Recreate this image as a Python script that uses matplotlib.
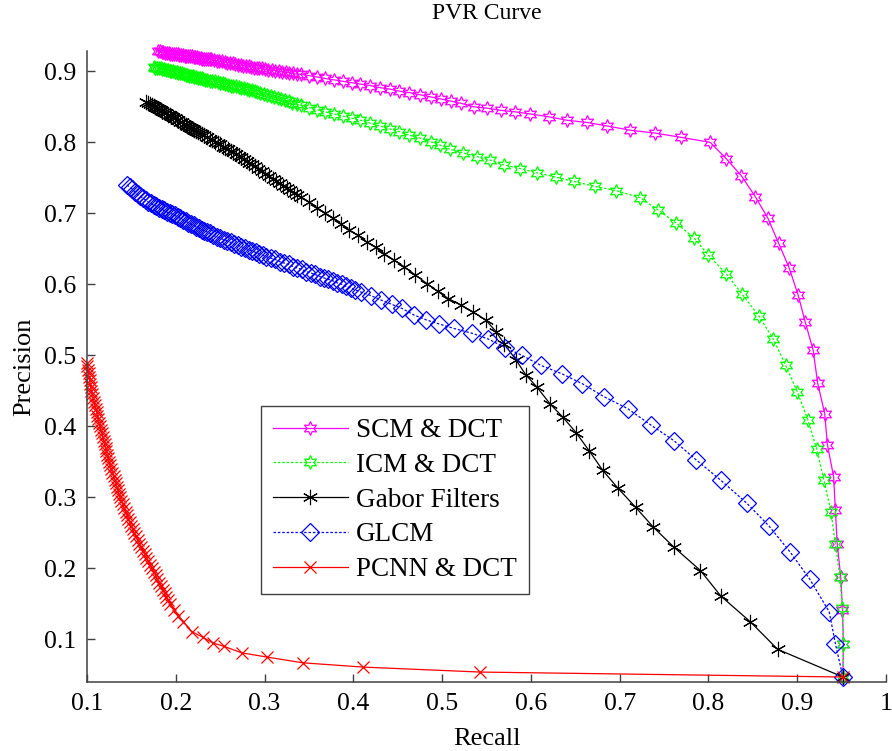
import matplotlib
matplotlib.use("Agg")
import matplotlib.pyplot as plt

plt.rcParams['font.family'] = ['Liberation Serif', 'DejaVu Serif']

title = "PVR Curve"
xlabel = "Recall"
ylabel = "Precision"
xticks = [0.1, 0.2, 0.3, 0.4, 0.5, 0.6, 0.7, 0.8, 0.9, 1.0]
xticklabels = ['0.1', '0.2', '0.3', '0.4', '0.5', '0.6', '0.7', '0.8', '0.9', '1']
yticks = [0.1, 0.2, 0.3, 0.4, 0.5, 0.6, 0.7, 0.8, 0.9]
yticklabels = ['0.1', '0.2', '0.3', '0.4', '0.5', '0.6', '0.7', '0.8', '0.9']

scm_x = [0.180, 0.182, 0.184, 0.186, 0.188, 0.190, 0.192, 0.194, 0.196, 0.198, 0.200, 0.202, 0.204, 0.206,
         0.208, 0.210, 0.212, 0.214, 0.216, 0.218, 0.220, 0.222, 0.224, 0.226, 0.228, 0.230, 0.232, 0.234,
         0.236, 0.238, 0.240, 0.243, 0.246, 0.249, 0.252, 0.255, 0.258, 0.261, 0.264, 0.267, 0.270, 0.273,
         0.276, 0.279, 0.282, 0.285, 0.288, 0.291, 0.294, 0.297, 0.300, 0.304, 0.308, 0.312, 0.316, 0.320,
         0.324, 0.328, 0.332, 0.336,
         0.341, 0.350, 0.359, 0.368, 0.378, 0.388, 0.398, 0.408, 0.419, 0.430, 0.441, 0.452, 0.463, 0.475,
         0.487, 0.499, 0.510, 0.521, 0.536, 0.551, 0.566, 0.582, 0.599, 0.620, 0.641, 0.663, 0.686, 0.712,
         0.740, 0.769, 0.802, 0.820, 0.837, 0.853, 0.867, 0.879, 0.891, 0.901, 0.909, 0.918, 0.923, 0.931,
         0.934, 0.941, 0.943, 0.945, 0.949, 0.951, 0.952, 0.9515]
scm_y = [0.928, 0.928, 0.927, 0.927, 0.926, 0.926, 0.926, 0.925, 0.925, 0.925, 0.924, 0.924, 0.923, 0.923,
         0.923, 0.922, 0.922, 0.922, 0.921, 0.921, 0.920, 0.920, 0.920, 0.919, 0.919, 0.918, 0.918, 0.918,
         0.917, 0.917, 0.917, 0.916, 0.915, 0.914, 0.914, 0.913, 0.912, 0.912, 0.911, 0.910, 0.909, 0.909,
         0.908, 0.907, 0.907, 0.906, 0.905, 0.905, 0.904, 0.904, 0.903, 0.902, 0.902, 0.901, 0.900, 0.899,
         0.899, 0.898, 0.897, 0.896,
         0.896, 0.894, 0.892, 0.890, 0.888, 0.886, 0.884, 0.882, 0.880, 0.877, 0.875, 0.872, 0.870, 0.867,
         0.864, 0.861, 0.858, 0.855, 0.850, 0.848, 0.845, 0.843, 0.840, 0.836, 0.831, 0.828, 0.823, 0.817,
         0.813, 0.807, 0.800, 0.777, 0.753, 0.723, 0.693, 0.658, 0.623, 0.585, 0.547, 0.507, 0.461, 0.418,
         0.374, 0.329, 0.282, 0.235, 0.188, 0.141, 0.094, 0.047]

icm_x = [0.175, 0.177, 0.179, 0.181, 0.183, 0.185, 0.187, 0.189, 0.191, 0.193, 0.195, 0.197, 0.199, 0.201,
         0.203, 0.205, 0.207, 0.209, 0.211, 0.213, 0.215, 0.217, 0.219, 0.221, 0.223, 0.225, 0.227, 0.229,
         0.231, 0.233, 0.235, 0.238, 0.241, 0.244, 0.247, 0.250, 0.253, 0.256, 0.259, 0.262, 0.265, 0.268,
         0.271, 0.274, 0.277, 0.280, 0.283, 0.286, 0.289, 0.292, 0.295, 0.299, 0.303, 0.307, 0.311, 0.315,
         0.319, 0.323, 0.327, 0.331, 0.336,
         0.341, 0.350, 0.359, 0.368, 0.378, 0.388, 0.398, 0.408, 0.419, 0.430, 0.441, 0.452, 0.463, 0.475,
         0.487, 0.498, 0.509, 0.524, 0.539, 0.554, 0.570, 0.588, 0.607, 0.628, 0.648, 0.672, 0.696, 0.723,
         0.743, 0.764, 0.784, 0.800, 0.820, 0.838, 0.857, 0.873, 0.887, 0.900, 0.912, 0.922, 0.930, 0.938,
         0.943, 0.948, 0.951, 0.952, 0.9515]
icm_y = [0.906, 0.905, 0.905, 0.904, 0.904, 0.903, 0.903, 0.902, 0.902, 0.901, 0.900, 0.900, 0.899, 0.899,
         0.898, 0.897, 0.897, 0.896, 0.895, 0.895, 0.894, 0.894, 0.893, 0.892, 0.892, 0.891, 0.890, 0.890,
         0.889, 0.888, 0.888, 0.887, 0.886, 0.886, 0.885, 0.884, 0.883, 0.882, 0.881, 0.880, 0.880, 0.879,
         0.878, 0.877, 0.876, 0.875, 0.874, 0.873, 0.872, 0.871, 0.870, 0.868, 0.867, 0.865, 0.864, 0.862,
         0.861, 0.859, 0.858, 0.856, 0.854,
         0.852, 0.849, 0.846, 0.843, 0.840, 0.837, 0.834, 0.831, 0.827, 0.823, 0.819, 0.815, 0.810, 0.806,
         0.801, 0.796, 0.790, 0.785, 0.780, 0.775, 0.768, 0.763, 0.757, 0.751, 0.745, 0.738, 0.732, 0.722,
         0.705, 0.686, 0.665, 0.641, 0.615, 0.586, 0.555, 0.523, 0.486, 0.449, 0.409, 0.368, 0.324, 0.280,
         0.235, 0.188, 0.144, 0.094, 0.047]

gabor_x = [0.167, 0.169, 0.171, 0.173, 0.175, 0.177, 0.179, 0.181, 0.183, 0.185, 0.187, 0.189, 0.191, 0.193,
           0.195, 0.197, 0.199, 0.201, 0.203, 0.205, 0.207, 0.209, 0.211, 0.213, 0.215, 0.217, 0.219, 0.221,
           0.223, 0.225, 0.227, 0.229, 0.232, 0.235, 0.238, 0.241, 0.244, 0.247, 0.250, 0.253, 0.256, 0.259,
           0.262, 0.265, 0.268, 0.271, 0.274, 0.277, 0.280, 0.283, 0.286, 0.289, 0.293, 0.297, 0.301, 0.305,
           0.309, 0.313, 0.317, 0.321, 0.325, 0.329, 0.333, 0.337,
           0.341, 0.350, 0.359, 0.368, 0.377, 0.386, 0.395, 0.405, 0.415, 0.425, 0.435, 0.446, 0.457, 0.470,
           0.483, 0.495, 0.507, 0.521, 0.535, 0.549, 0.561, 0.570, 0.583, 0.594, 0.607, 0.622, 0.636, 0.651,
           0.666, 0.681, 0.698, 0.718, 0.738, 0.761, 0.791, 0.814, 0.847, 0.878, 0.9515]
gabor_y = [0.857, 0.856, 0.854, 0.853, 0.851, 0.850, 0.848, 0.847, 0.845, 0.844, 0.842, 0.841, 0.839, 0.838,
           0.837, 0.835, 0.834, 0.832, 0.831, 0.829, 0.828, 0.826, 0.825, 0.823, 0.822, 0.820, 0.819, 0.818,
           0.816, 0.815, 0.813, 0.812, 0.810, 0.807, 0.805, 0.803, 0.801, 0.799, 0.797, 0.794, 0.792, 0.790,
           0.788, 0.786, 0.784, 0.781, 0.779, 0.776, 0.774, 0.771, 0.769, 0.766, 0.763, 0.760, 0.756, 0.753,
           0.749, 0.746, 0.743, 0.739, 0.736, 0.733, 0.729, 0.726,
           0.723, 0.716, 0.708, 0.700, 0.693, 0.685, 0.677, 0.669, 0.660, 0.652, 0.643, 0.634, 0.625, 0.613,
           0.601, 0.590, 0.580, 0.571, 0.561, 0.550, 0.533, 0.516, 0.494, 0.473, 0.455, 0.431, 0.413, 0.391,
           0.365, 0.338, 0.313, 0.286, 0.258, 0.230, 0.197, 0.161, 0.125, 0.086, 0.047]

glcm_x = [0.145, 0.148, 0.151, 0.154, 0.157, 0.160, 0.163, 0.166, 0.169, 0.172, 0.175, 0.178, 0.181, 0.184,
          0.187, 0.190, 0.193, 0.196, 0.199, 0.202, 0.205, 0.208, 0.211, 0.214, 0.217, 0.220, 0.223, 0.226,
          0.229, 0.232, 0.235, 0.238, 0.242, 0.246, 0.250, 0.254, 0.258, 0.262, 0.266, 0.270, 0.274, 0.278,
          0.282, 0.286, 0.290, 0.294, 0.298, 0.302, 0.307, 0.312, 0.317, 0.322, 0.327, 0.332, 0.337, 0.342,
          0.347, 0.352, 0.357, 0.362, 0.367, 0.372, 0.377, 0.382, 0.387, 0.392, 0.397, 0.402,
          0.409, 0.420, 0.431, 0.443, 0.455, 0.468, 0.482, 0.497, 0.513, 0.534, 0.552, 0.571, 0.590, 0.611,
          0.635, 0.658, 0.682, 0.709, 0.735, 0.761, 0.786, 0.814, 0.843, 0.868, 0.892, 0.914, 0.936, 0.943,
          0.9515]
glcm_y = [0.740, 0.737, 0.734, 0.730, 0.727, 0.724, 0.721, 0.719, 0.716, 0.714, 0.712, 0.710, 0.708, 0.706,
          0.704, 0.702, 0.700, 0.699, 0.697, 0.695, 0.693, 0.691, 0.689, 0.687, 0.685, 0.683, 0.681, 0.679,
          0.677, 0.675, 0.674, 0.672, 0.669, 0.667, 0.665, 0.663, 0.661, 0.659, 0.657, 0.655, 0.653, 0.651,
          0.649, 0.647, 0.645, 0.643, 0.641, 0.639, 0.637, 0.635, 0.632, 0.630, 0.628, 0.625, 0.623, 0.621,
          0.618, 0.616, 0.614, 0.611, 0.609, 0.607, 0.605, 0.602, 0.600, 0.597, 0.595, 0.592,
          0.589, 0.584, 0.578, 0.572, 0.566, 0.557, 0.550, 0.544, 0.538, 0.531, 0.523, 0.511, 0.500, 0.486,
          0.474, 0.460, 0.442, 0.425, 0.402, 0.380, 0.353, 0.324, 0.292, 0.260, 0.223, 0.185, 0.139, 0.094,
          0.047]

pcnn_x = [0.1000, 0.1005, 0.1012, 0.1018, 0.1024, 0.1031, 0.1037, 0.1044, 0.1050, 0.1060, 0.1070, 0.1079,
          0.1089, 0.1099, 0.1109, 0.1118, 0.1128, 0.1137, 0.1147, 0.1157, 0.1168, 0.1178, 0.1188, 0.1199,
          0.1209, 0.1219, 0.1229, 0.1240, 0.1250, 0.1262, 0.1274, 0.1287, 0.1299, 0.1311, 0.1323, 0.1335,
          0.1348, 0.1360, 0.1372, 0.1388, 0.1404, 0.1419, 0.1435, 0.1451, 0.1467, 0.1483, 0.1498, 0.1514,
          0.1530, 0.1550, 0.1570, 0.1590, 0.1610, 0.1630, 0.1650, 0.1670, 0.1690, 0.1710, 0.1730, 0.1751,
          0.1772, 0.1792, 0.1813, 0.1833, 0.1854, 0.1874, 0.1895, 0.1915, 0.1936, 0.1980, 0.2030, 0.2086,
          0.2180, 0.2304, 0.2417, 0.2548, 0.2744, 0.3033, 0.3432, 0.4110, 0.5430, 0.9515]
pcnn_y = [0.489, 0.485, 0.480, 0.475, 0.470, 0.465, 0.460, 0.455, 0.450, 0.445, 0.440, 0.435,
          0.430, 0.425, 0.420, 0.415, 0.410, 0.405, 0.400, 0.395, 0.390, 0.385, 0.380, 0.375,
          0.370, 0.365, 0.360, 0.355, 0.350, 0.345, 0.340, 0.335, 0.330, 0.325, 0.320, 0.315,
          0.310, 0.305, 0.300, 0.295, 0.290, 0.285, 0.280, 0.275, 0.270, 0.265, 0.260, 0.255,
          0.250, 0.245, 0.240, 0.235, 0.230, 0.225, 0.220, 0.215, 0.210, 0.205, 0.200, 0.195,
          0.190, 0.185, 0.180, 0.175, 0.170, 0.165, 0.160, 0.155, 0.150, 0.142, 0.133, 0.125,
          0.111, 0.103, 0.095, 0.090, 0.081, 0.075, 0.067, 0.061, 0.054, 0.047]

labels = ["SCM & DCT", "ICM & DCT", "Gabor Filters", "GLCM", "PCNN & DCT"]

fig = plt.figure(figsize=(8.92, 7.51), dpi=100)
ax = fig.add_axes([87/892, 69/751, (886-87)/892, (682-51)/751])

star6 = (6, 1, 0)
aster = (6, 2, 0)
lw = 0.9
ax.plot(scm_x, scm_y, color='#FF00FF', linestyle='-', linewidth=lw, marker=star6, markersize=10,
        markerfacecolor='none', markeredgewidth=0.9, label=labels[0], clip_on=False)
ax.plot(icm_x, icm_y, color='#00FF00', linestyle=(0, (2, 1.5)), linewidth=lw, marker=star6, markersize=10,
        markerfacecolor='none', markeredgewidth=0.9, label=labels[1], clip_on=False)
ax.plot(gabor_x, gabor_y, color='black', linestyle='-', linewidth=lw, marker=aster, markersize=11,
        markeredgewidth=0.8, label=labels[2], clip_on=False)
ax.plot(glcm_x, glcm_y, color='#0000FF', linestyle=(0, (2, 1.5)), linewidth=lw, marker='D', markersize=9,
        markerfacecolor='none', markeredgewidth=0.9, label=labels[3], clip_on=False)
ax.plot(pcnn_x, pcnn_y, color='#FF0000', linestyle='-', linewidth=lw, marker='x', markersize=9,
        markeredgewidth=0.9, label=labels[4], clip_on=False)

ax.set_xlim(0.1, 1.0)
ax.set_ylim(0.04, 0.9286)
ax.set_xticks(xticks)
ax.set_xticklabels(xticklabels)
ax.set_yticks(yticks)
ax.set_yticklabels(yticklabels)
for s in ['top', 'right']:
    ax.spines[s].set_visible(False)
for s in ['left', 'bottom']:
    ax.spines[s].set_color('#404040')
    ax.spines[s].set_linewidth(1.1)
ax.tick_params(direction='in', length=6, width=1.0, color='#404040', labelsize=18.5, pad=8)

ax.set_title(title, fontsize=17, pad=23)
ax.set_xlabel(xlabel, fontsize=19, labelpad=9)
ax.set_ylabel(ylabel, fontsize=19, labelpad=6)

leg = ax.legend(loc='upper left', bbox_to_anchor=(0.2178, 0.4374), borderaxespad=0, fontsize=19.5,
                handlelength=2.75, handletextpad=0.3, labelspacing=0.36, borderpad=0.45,
                fancybox=False, framealpha=1, edgecolor='#404040')
leg.get_frame().set_linewidth(1.0)

fig.savefig('out.png', dpi=100)
